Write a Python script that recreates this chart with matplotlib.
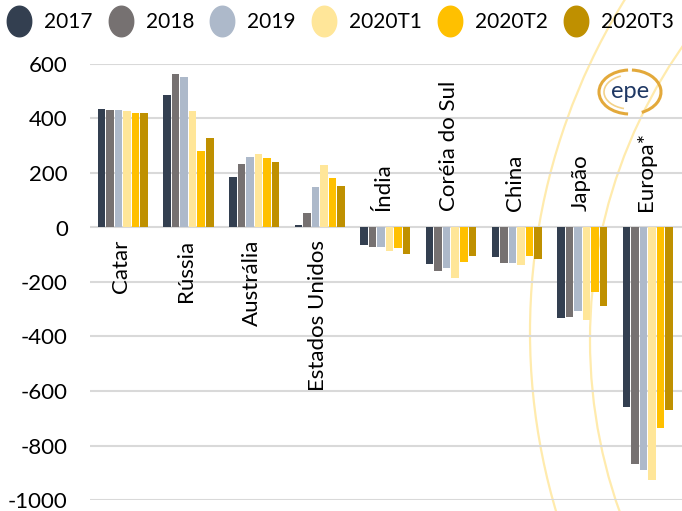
import numpy as np
import matplotlib
matplotlib.use("Agg")
import matplotlib.pyplot as plt
from matplotlib.lines import Line2D
from matplotlib.patches import Circle, Arc
from matplotlib.path import Path

plt.rcParams['font.family'] = ['Lato', 'DejaVu Sans']

paises = ['Catar', 'Rússia', 'Austrália', 'Estados Unidos', 'Índia',
          'Coréia do Sul', 'China', 'Japão', 'Europa*']
periodos = ['2017', '2018', '2019', '2020T1', '2020T2', '2020T3']
cores = ['#333F50', '#767171', '#ADB9CA', '#FFE699', '#FFC000', '#BF9000']

v2017 = [435, 488, 186, 8, -66, -134, -109, -331, -660]
v2018 = [432, 564, 232, 55, -71, -160, -132, -328, -867]
v2019 = [432, 554, 258, 148, -73, -148, -131, -306, -891]
v2020t1 = [428, 429, 271, 231, -87, -186, -136, -340, -928]
v2020t2 = [422, 282, 256, 181, -76, -125, -106, -238, -735]
v2020t3 = [420, 329, 242, 154, -98, -104, -116, -289, -670]
series = [v2017, v2018, v2019, v2020t1, v2020t2, v2020t3]

yticks = [-1000, -800, -600, -400, -200, 0, 200, 400, 600]

fig = plt.figure(figsize=(6.82, 5.11), dpi=100, facecolor='white')

# faint background arcs and logo, in pixel coordinates
bg = fig.add_axes([0, 0, 1, 1], zorder=0)
bg.set_xlim(0, 682)
bg.set_ylim(511, 0)
bg.axis('off')
bg.add_patch(Circle((1160, 332), 630, fill=False, ec='#FFE699', lw=1.6, alpha=0.8))
bg.add_patch(Circle((1102, 340), 512, fill=False, ec='#FFE699', lw=1.6, alpha=0.8))
bg.add_patch(Arc((630, 92), 62, 44, theta1=95, theta2=265, ec='#E3A93B', lw=2.2))
bg.add_patch(Arc((630, 92), 62, 44, theta1=-85, theta2=60, ec='#E3A93B', lw=2.2))
bg.add_patch(Arc((630, 92), 52, 34, theta1=110, theta2=240, ec='#F3D28A', lw=1.2))
bg.text(630, 91, 'epe', ha='center', va='center', fontsize=17, color='#1F3864')

ax = fig.add_axes([90 / 682, 11 / 511, 592 / 682, 436 / 511], zorder=1)
ax.patch.set_alpha(0)

x = np.arange(len(paises))
step = 0.13
for j, (vals, cor) in enumerate(zip(series, cores)):
    ax.bar(x + (j - 2.5) * step, vals, width=0.115, color=cor, zorder=3,
           label=periodos[j])

for i, nome in enumerate(paises):
    if v2017[i] > 0:
        ax.text(i - 0.03, -45, nome, rotation=90, ha='center', va='top', fontsize=16)
    else:
        ax.text(i - 0.03, 60, nome, rotation=90, ha='center', va='bottom', fontsize=16)

ax.set_xlim(-0.5, 8.52)
ax.set_ylim(-1000, 600)
ax.set_yticks(yticks)
ax.set_yticklabels([str(t) for t in yticks])
ax.set_xticks([])
ax.grid(axis='y', color='#D9D9D9', lw=1.5, zorder=0)
ax.tick_params(axis='y', length=0, pad=16, labelsize=16)
for s in ax.spines.values():
    s.set_visible(False)

# ellipse legend markers
t = np.linspace(0, 2 * np.pi, 60)
elipse = Path(np.column_stack([0.8 * np.cos(t), np.sin(t)]))
handles = [Line2D([], [], ls='none', marker=elipse, markersize=22,
                  markerfacecolor=c, markeredgecolor=c) for c in cores]
fig.legend(handles, periodos, loc='center', bbox_to_anchor=(0.5, 1 - 22 / 511),
           ncol=6, frameon=False, fontsize=15, handlelength=1.0,
           handletextpad=0.7, columnspacing=0.85, borderaxespad=0, borderpad=0.2)

fig.savefig('out.png', dpi=100, facecolor='white')
